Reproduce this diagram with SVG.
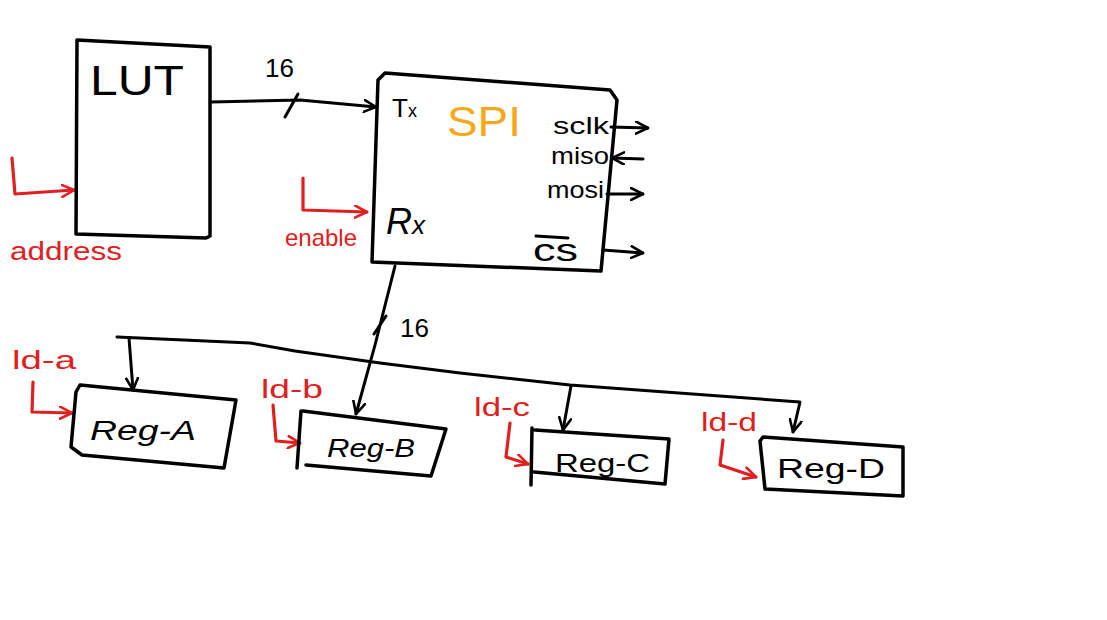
<svg xmlns="http://www.w3.org/2000/svg" width="1107" height="620" viewBox="0 0 1107 620">
<defs>
<style>
.box{fill:none;stroke:#000;stroke-width:3.5;stroke-linejoin:round;stroke-linecap:round}
.wire{fill:none;stroke:#000;stroke-width:3;stroke-linecap:round;stroke-linejoin:round}
.red{fill:none;stroke:#e02020;stroke-width:3.2;stroke-linecap:round;stroke-linejoin:round}
.t{font-family:"Liberation Sans",Arial,sans-serif;fill:#000}
.rt{font-family:"Liberation Sans",Arial,sans-serif;fill:#e02020}
</style>
<marker id="ah" viewBox="0 0 14 14" refX="13" refY="7" markerWidth="14" markerHeight="14" markerUnits="userSpaceOnUse" orient="auto">
<path d="M1,1 L13,7 L1,13" fill="none" stroke="#000" stroke-width="2.6" stroke-linecap="round"/>
</marker>
<marker id="ahr" viewBox="0 0 14 14" refX="13" refY="7" markerWidth="14" markerHeight="14" markerUnits="userSpaceOnUse" orient="auto">
<path d="M1,1 L13,7 L1,13" fill="none" stroke="#e02020" stroke-width="2.6" stroke-linecap="round"/>
</marker>
</defs>
<rect width="1107" height="620" fill="#fff"/>

<g id="connectors">
<path class="wire" d="M211,102 L300,100 L376,107" marker-end="url(#ah)"/>
<path class="wire" d="M285,117 L298,94"/>
<path class="wire" d="M395,266 L375,345 L356,414" marker-end="url(#ah)"/>
<path class="wire" d="M374,334 L386,316"/>
<path class="wire" d="M117,337 L250,343 L295,351 L380,363 L460,373 L570,385 L800,402 L793,432" marker-end="url(#ah)"/>
<path class="wire" d="M129,338 L133,390" marker-end="url(#ah)"/>
<path class="wire" d="M571,386 L563,430" marker-end="url(#ah)"/>
<path class="wire" d="M611,127 L648,128" marker-end="url(#ah)"/>
<path class="wire" d="M643,159 L612,158" marker-end="url(#ah)"/>
<path class="wire" d="M607,194 L643,194" marker-end="url(#ah)"/>
<path class="wire" d="M603,250 L643,253" marker-end="url(#ah)"/>
<path class="red" d="M12,158 L15,194 L74,190" marker-end="url(#ahr)"/>
<path class="red" d="M303,178 L303,210 L367,212" marker-end="url(#ahr)"/>
<path class="red" d="M33,382 L32,412 L72,413" marker-end="url(#ahr)"/>
<path class="red" d="M273,405 L276,441 L300,443" marker-end="url(#ahr)"/>
<path class="red" d="M510,423 L506,457 L528,464" marker-end="url(#ahr)"/>
<path class="red" d="M723,440 L720,465 L756,477" marker-end="url(#ahr)"/>
</g>

<g id="lut">
<path class="box" d="M77,40 L210,47 L210,236 L206,238 L76,234 L77,40 Z"/>
<text class="t" x="90" y="95" font-size="42" textLength="94" lengthAdjust="spacingAndGlyphs">LUT</text>
</g>
<text class="t" x="265" y="77" font-size="26">16</text>

<g id="spi">
<path class="box" d="M385,73 L610,90 L617,100 L601,271 L372,262 L378,80 Z"/>
<text class="t" x="392" y="117" font-size="26">T<tspan font-size="18">x</tspan></text>
<text x="447" y="136" font-family="Liberation Sans,Arial,sans-serif" font-size="42" fill="#f5a818" textLength="74" lengthAdjust="spacingAndGlyphs">SPI</text>
<text class="t" x="553" y="134" font-size="24" textLength="56" lengthAdjust="spacingAndGlyphs">sclk</text>
<text class="t" x="551" y="164" font-size="24" textLength="58" lengthAdjust="spacingAndGlyphs">miso</text>
<text class="t" x="547" y="198" font-size="24" textLength="57" lengthAdjust="spacingAndGlyphs">mosi</text>
<text class="t" x="386" y="234" font-size="36" font-style="italic">R<tspan font-size="26">x</tspan></text>
<text class="t" x="533" y="261" font-size="32" textLength="45" lengthAdjust="spacingAndGlyphs">cs</text>
<path class="wire" d="M536,236 L568,238"/>
</g>
<text class="rt" x="285" y="246" font-size="24" textLength="72" lengthAdjust="spacingAndGlyphs">enable</text>
<text class="rt" x="10" y="260" font-size="25" textLength="112" lengthAdjust="spacingAndGlyphs">address</text>

<text class="t" x="400" y="337" font-size="26">16</text>

<g id="reg-a">
<path class="box" d="M80,385 L236,400 L224,468 L82,455 L71,447 L76,392 Z"/>
<text class="t" x="90" y="440" font-size="28" font-style="italic" textLength="106" lengthAdjust="spacingAndGlyphs">Reg-A</text>
<text class="rt" x="12" y="369" font-size="26" textLength="64" lengthAdjust="spacingAndGlyphs">ld-a</text>
</g>
<g id="reg-b">
<path class="box" d="M303,411 L446,429 L431,476 L306,465 M301,411 L297,468"/>
<text class="t" x="327" y="457" font-size="26" font-style="italic" textLength="88" lengthAdjust="spacingAndGlyphs">Reg-B</text>
<text class="rt" x="261" y="398" font-size="26" textLength="62" lengthAdjust="spacingAndGlyphs">ld-b</text>
</g>
<g id="reg-c">
<path class="box" d="M535,430 L669,439 L665,484 L534,472 M532,428 L531,485"/>
<text class="t" x="555" y="472" font-size="26" textLength="95" lengthAdjust="spacingAndGlyphs">Reg-C</text>
<text class="rt" x="474" y="416" font-size="26" textLength="56" lengthAdjust="spacingAndGlyphs">ld-c</text>
</g>
<g id="reg-d">
<path class="box" d="M763,437 L903,447 L903,496 L765,489 L760,441 Z"/>
<text class="t" x="777" y="478" font-size="28" textLength="108" lengthAdjust="spacingAndGlyphs">Reg-D</text>
<text class="rt" x="701" y="431" font-size="26" textLength="56" lengthAdjust="spacingAndGlyphs">ld-d</text>
</g>
</svg>
